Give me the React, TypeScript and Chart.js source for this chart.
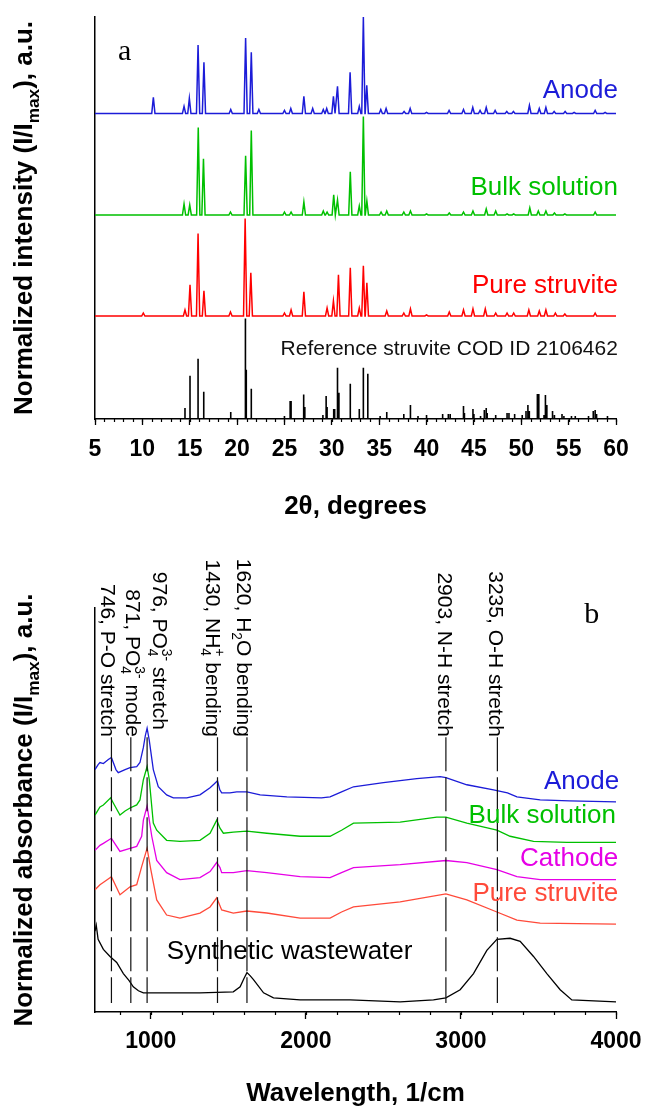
import React, { useEffect, useRef } from 'react';
import { Chart, registerables } from 'chart.js';

Chart.register(...registerables);

// ---------------- Panel a: XRD (2θ, degrees; normalized intensity) ----------------
const XRD_MIN = 5;
const XRD_MAX = 60;
const XRD_TICKS = [5, 10, 15, 20, 25, 30, 35, 40, 45, 50, 55, 60];

const ANODE_XRD_BASE = 3.04;
const ANODE_XRD_PEAKS: [number, number][] = [
  [11.16, 0.16], [14.4, 0.07], [14.96, 0.15], [15.88, 0.68], [16.5, 0.51], [19.33, 0.04],
  [20.9, 0.75], [21.5, 0.61], [22.3, 0.04], [25.0, 0.03], [25.67, 0.05], [27.05, 0.17],
  [27.98, 0.05], [29.1, 0.04], [29.46, 0.05], [30.17, 0.17], [30.6, 0.27], [31.93, 0.41],
  [32.9, 0.07], [33.33, 0.96], [33.69, 0.28], [35.17, 0.04], [35.73, 0.05], [37.63, 0.02],
  [38.27, 0.05], [40.0, 0.01], [42.38, 0.03], [43.9, 0.04], [44.88, 0.06], [45.65, 0.03],
  [46.3, 0.06], [47.24, 0.03], [48.47, 0.02], [49.17, 0.02], [50.86, 0.08], [51.9, 0.05],
  [52.6, 0.06], [53.47, 0.02], [54.63, 0.02], [55.58, 0.01], [57.8, 0.03], [58.85, 0.01],
];

const BULK_XRD_BASE = 2.03;
const BULK_XRD_PEAKS: [number, number][] = [
  [14.4, 0.11], [15.0, 0.1], [15.9, 0.87], [16.45, 0.56], [19.3, 0.03], [20.9, 0.59],
  [21.5, 0.84], [25.0, 0.03], [25.7, 0.03], [27.05, 0.13], [29.1, 0.04], [29.5, 0.03],
  [30.2, 0.2], [30.6, 0.15], [31.95, 0.43], [32.9, 0.09], [33.33, 0.98], [33.7, 0.14],
  [35.2, 0.03], [35.8, 0.04], [37.6, 0.03], [38.3, 0.04], [40.0, 0.01], [42.4, 0.02],
  [43.9, 0.03], [44.9, 0.04], [46.3, 0.06], [47.3, 0.04], [48.5, 0.01], [49.2, 0.01],
  [50.9, 0.07], [51.8, 0.04], [52.6, 0.04], [53.5, 0.02], [54.6, 0.01], [57.8, 0.03],
];

const PURE_XRD_BASE = 1.025;
const PURE_XRD_PEAKS: [number, number][] = [
  [10.1, 0.03], [14.5, 0.06], [15.03, 0.31], [15.88, 0.82], [16.5, 0.25], [19.3, 0.04],
  [20.85, 0.97], [21.45, 0.43], [25.0, 0.03], [25.7, 0.06], [27.05, 0.24], [29.5, 0.08],
  [30.17, 0.15], [30.7, 0.41], [31.95, 0.48], [32.9, 0.08], [33.33, 0.5], [33.7, 0.33],
  [35.8, 0.05], [37.6, 0.03], [38.3, 0.07], [40.0, 0.01], [42.4, 0.04], [43.9, 0.06],
  [44.9, 0.07], [46.2, 0.07], [47.3, 0.03], [48.5, 0.03], [49.2, 0.03], [50.8, 0.06],
  [51.9, 0.05], [52.6, 0.06], [53.6, 0.03], [54.6, 0.02], [57.8, 0.03],
];

// Reference struvite COD ID 2106462 stick pattern
const REF_STICKS: [number, number][] = [
  [14.5, 0.11], [15.03, 0.43], [15.88, 0.6], [16.48, 0.27], [19.33, 0.07], [20.88, 1.0],
  [20.97, 0.49], [21.5, 0.3], [25.0, 0.03], [25.6, 0.18], [25.7, 0.18], [27.03, 0.245],
  [27.15, 0.12], [29.06, 0.04], [29.4, 0.23], [29.5, 0.12], [30.2, 0.1], [30.3, 0.1],
  [30.6, 0.51], [30.75, 0.26], [31.95, 0.35], [32.9, 0.1], [33.33, 0.51], [33.8, 0.45],
  [35.1, 0.03], [35.8, 0.07], [37.6, 0.05], [38.3, 0.14], [39.1, 0.03], [40.0, 0.04],
  [41.7, 0.05], [42.3, 0.05], [42.5, 0.05], [43.9, 0.13], [44.0, 0.06], [44.9, 0.1],
  [45.0, 0.05], [45.7, 0.03], [46.1, 0.09], [46.3, 0.11], [46.4, 0.06], [47.3, 0.04],
  [48.5, 0.06], [48.7, 0.06], [49.3, 0.05], [50.1, 0.04], [50.5, 0.08], [50.7, 0.14],
  [50.85, 0.08], [51.7, 0.25], [51.85, 0.25], [52.4, 0.04], [52.55, 0.24], [52.7, 0.14],
  [53.3, 0.08], [53.5, 0.04], [54.3, 0.05], [54.5, 0.03], [55.3, 0.03], [55.7, 0.03],
  [57.1, 0.03], [57.6, 0.08], [57.8, 0.09], [57.95, 0.05], [59.1, 0.03],
];

// ---------------- Panel b: FTIR (wavenumber, normalized absorbance) ----------------
const IR_MIN = 640;
const IR_MAX = 4000;
const IR_TICKS = [1000, 2000, 3000, 4000];

const ANODE_IR: [number, number][] = [
  [640, 2.4], [660, 2.45], [672, 2.47], [694, 2.46], [726, 2.5], [746, 2.52], [758, 2.47],
  [775, 2.4], [790, 2.37], [834, 2.4], [866, 2.42], [909, 2.43], [930, 2.47], [952, 2.62],
  [965, 2.74], [976, 2.81], [990, 2.69], [1016, 2.4], [1048, 2.23], [1102, 2.15], [1145, 2.12],
  [1232, 2.12], [1317, 2.15], [1382, 2.22], [1410, 2.26], [1430, 2.29], [1445, 2.2],
  [1457, 2.17], [1510, 2.17], [1554, 2.18], [1620, 2.18], [1705, 2.15], [1877, 2.13],
  [2100, 2.12], [2156, 2.13], [2230, 2.18], [2307, 2.23], [2500, 2.27], [2715, 2.31], [2866, 2.33],
  [2903, 2.32], [3038, 2.25], [3210, 2.2], [3300, 2.17], [3361, 2.13], [3511, 2.1],
  [3700, 2.09], [4000, 2.08],
];

const BULK_IR: [number, number][] = [
  [640, 1.95], [672, 2.03], [694, 2.05], [741, 2.12], [758, 2.07], [801, 1.95], [834, 1.99],
  [866, 2.02], [909, 2.05], [930, 2.1], [952, 2.3], [976, 2.43], [990, 2.3], [1016, 1.87],
  [1038, 1.8], [1102, 1.7], [1188, 1.69], [1317, 1.7], [1382, 1.77], [1425, 1.9], [1446, 1.82],
  [1468, 1.77], [1532, 1.78], [1619, 1.79], [1748, 1.77], [1963, 1.74], [2156, 1.74],
  [2230, 1.8], [2307, 1.87], [2608, 1.88], [2844, 1.93], [2903, 1.93], [3038, 1.87],
  [3232, 1.8], [3317, 1.74], [3468, 1.69], [3683, 1.68], [4000, 1.68],
];

const CATHODE_IR: [number, number][] = [
  [640, 1.6], [672, 1.65], [694, 1.67], [746, 1.72], [801, 1.59], [866, 1.62], [909, 1.64],
  [941, 1.74], [952, 1.9], [976, 2.04], [990, 1.9], [1006, 1.74], [1038, 1.5], [1102, 1.38],
  [1188, 1.31], [1317, 1.33], [1382, 1.39], [1425, 1.48], [1446, 1.43], [1457, 1.38],
  [1532, 1.38], [1619, 1.4], [1748, 1.38], [1963, 1.34], [2156, 1.33], [2230, 1.38], [2307, 1.43],
  [2608, 1.46], [2903, 1.5], [3038, 1.48], [3232, 1.41], [3361, 1.34], [3511, 1.31], [4000, 1.31],
];

const PURE_IR: [number, number][] = [
  [640, 1.21], [672, 1.26], [700, 1.29], [746, 1.34], [801, 1.16], [866, 1.24], [909, 1.26],
  [941, 1.44], [976, 1.62], [1000, 1.41], [1038, 1.11], [1102, 0.96], [1188, 0.93],
  [1317, 0.98], [1382, 1.04], [1425, 1.13], [1457, 1.01], [1532, 0.98], [1619, 1.0],
  [1748, 0.98], [1963, 0.93], [2156, 0.93], [2230, 0.99], [2307, 1.04], [2608, 1.09], [2903, 1.17],
  [3038, 1.11], [3232, 0.99], [3361, 0.91], [3511, 0.88], [4000, 0.87],
];

const WASTEWATER_IR: [number, number][] = [
  [640, 0.8], [648, 0.86], [660, 0.72], [694, 0.62], [737, 0.55], [780, 0.49], [823, 0.38],
  [860, 0.31], [887, 0.25], [920, 0.21], [952, 0.19], [976, 0.19], [1102, 0.19], [1317, 0.19],
  [1532, 0.2], [1576, 0.25], [1600, 0.33], [1620, 0.39], [1640, 0.36], [1662, 0.32],
  [1727, 0.19], [1791, 0.14], [1963, 0.12], [2156, 0.12], [2285, 0.12], [2608, 0.1],
  [2823, 0.12], [2903, 0.14], [2995, 0.22], [3081, 0.38], [3167, 0.61], [3232, 0.72],
  [3317, 0.73], [3382, 0.7], [3468, 0.55], [3554, 0.38], [3640, 0.22], [3715, 0.12], [4000, 0.1],
];

// Band assignments (wavenumbers) and their labels
const BAND_WAVENUMBERS = [746, 871, 976, 1430, 1620, 2903, 3235];
type Seg = { t: string; s?: 'sub' | 'sup'; stack?: boolean };
const BAND_LABELS: Seg[][] = [
  [{ t: '746, P-O stretch' }],
  [{ t: '871, PO' }, { t: '4', s: 'sub' }, { t: '3-', s: 'sup', stack: true }, { t: ' mode' }],
  [{ t: '976, PO' }, { t: '4', s: 'sub' }, { t: '3-', s: 'sup', stack: true }, { t: ' stretch' }],
  [{ t: '1430, NH' }, { t: '4', s: 'sub' }, { t: '+', s: 'sup', stack: true }, { t: ' bending' }],
  [{ t: '1620, H' }, { t: '2', s: 'sub' }, { t: 'O bending' }],
  [{ t: '2903, N-H stretch' }],
  [{ t: '3235, O-H stretch' }],
];

// ---------------- styles ----------------
const SANS = "'Liberation Sans', Arial, Helvetica, sans-serif";
const SERIF = "'Liberation Serif', 'Times New Roman', serif";
const BLUE = '#1c1cd8';
const GREEN = '#00c000';
const RED = '#ff0000';
const MAGENTA = '#e600e6';
const SALMON = '#ff4a3a';
const BLACK = '#000000';

const PEAK_HALF_WIDTH = 0.17;
const BAND_LINE_TOP = 2.72;
const BAND_LINE_BOTTOM = 0.09;
const BAND_LABEL_DX = [-4.7, 0.9, 11.7, -5.5, -3.9, -2, -2.5];
const BAND_LABEL_END = [2.723, 2.723, 2.792, 2.723, 2.723, 2.723, 2.723];

// ---------------- helpers ----------------
function xrdTrace(base: number, peaks: [number, number][]) {
  const pts: { x: number; y: number }[] = [{ x: XRD_MIN, y: base }];
  const sorted = [...peaks].sort((a, b) => a[0] - b[0]);
  for (const [p, h] of sorted) {
    pts.push({ x: p - PEAK_HALF_WIDTH, y: base }, { x: p, y: base + h }, { x: p + PEAK_HALF_WIDTH, y: base });
  }
  pts.push({ x: XRD_MAX, y: base });
  return pts;
}

function stickTrace(sticks: [number, number][]) {
  const pts: { x: number; y: number | null }[] = [];
  for (const [p, h] of sticks) {
    pts.push({ x: p, y: 0 }, { x: p, y: h }, { x: p, y: null });
  }
  return pts;
}

function pairs(arr: [number, number][]) {
  return arr.map(([x, y]) => ({ x, y }));
}

function layoutRich(ctx: CanvasRenderingContext2D, segs: Seg[], size: number, weight: string) {
  let x = 0;
  let prevStart = 0;
  const items: { seg: Seg; fs: number; start: number }[] = [];
  for (const seg of segs) {
    const fs = seg.s ? size * 0.66 : size;
    ctx.font = `${weight} ${fs}px ${SANS}`;
    const w = ctx.measureText(seg.t).width;
    let start: number;
    if (seg.stack) {
      start = prevStart;
      x = Math.max(x, start + w);
    } else {
      start = x;
      x += w;
    }
    items.push({ seg, fs, start });
    prevStart = start;
  }
  return { items, width: x };
}

function drawRich(
  ctx: CanvasRenderingContext2D, segs: Seg[], x: number, y: number, angle: number,
  align: 'left' | 'right' | 'center', size: number, weight: string, color: string,
) {
  ctx.save();
  ctx.translate(x, y);
  ctx.rotate(angle);
  const { items, width } = layoutRich(ctx, segs, size, weight);
  const x0 = align === 'right' ? -width : align === 'center' ? -width / 2 : 0;
  ctx.fillStyle = color;
  ctx.textBaseline = 'middle';
  ctx.textAlign = 'left';
  for (const it of items) {
    ctx.font = `${weight} ${it.fs}px ${SANS}`;
    const dy = it.seg.s === 'sub' ? size * 0.34 : it.seg.s === 'sup' ? -size * 0.32 : 0;
    ctx.fillText(it.seg.t, x0 + it.start, dy);
  }
  ctx.restore();
}

type TextLabel = { text: string; x: number; y: number; color: string; size: number; align: CanvasTextAlign; font?: string; baseline?: CanvasTextBaseline };

function labelsPlugin(labels: TextLabel[], yTitle: Seg[], minorStep: number, minorLen: number) {
  return {
    id: 'customText',
    afterDraw(chart: any) {
      const ctx: CanvasRenderingContext2D = chart.ctx;
      const xs = chart.scales.x;
      const ys = chart.scales.y;
      const area = chart.chartArea;
      // minor ticks
      ctx.save();
      ctx.strokeStyle = BLACK;
      ctx.lineWidth = 1.2;
      const start = Math.ceil(xs.min / minorStep) * minorStep;
      for (let v = start; v <= xs.max + 1e-9; v += minorStep) {
        const px = Math.round(xs.getPixelForValue(v)) + 0.5;
        ctx.beginPath();
        ctx.moveTo(px, area.bottom);
        ctx.lineTo(px, area.bottom + minorLen);
        ctx.stroke();
      }
      ctx.restore();
      // series labels
      for (const l of labels) {
        ctx.save();
        ctx.font = `${l.size}px ${l.font ?? SANS}`;
        ctx.fillStyle = l.color;
        ctx.textAlign = l.align;
        ctx.textBaseline = l.baseline ?? 'middle';
        ctx.fillText(l.text, xs.getPixelForValue(l.x), ys.getPixelForValue(l.y));
        ctx.restore();
      }
      // y-axis title
      drawRich(ctx, yTitle, area.left - 70, (area.top + area.bottom) / 2, -Math.PI / 2, 'center', 26, 'bold', BLACK);
    },
  };
}

const bandPlugin = {
  id: 'bandLabels',
  afterDraw(chart: any) {
    const ctx: CanvasRenderingContext2D = chart.ctx;
    const xs = chart.scales.x;
    const ys = chart.scales.y;
    BAND_WAVENUMBERS.forEach((wn, i) => {
      const px = xs.getPixelForValue(wn) + BAND_LABEL_DX[i];
      const py = ys.getPixelForValue(BAND_LABEL_END[i]);
      drawRich(ctx, BAND_LABELS[i], px, py, Math.PI / 2, 'right', 21, 'normal', BLACK);
    });
  },
};

function xAxis(min: number, max: number, ticks: number[], title: string, height: number, tickPad: number, titlePad: number, tickLen: number) {
  return {
    type: 'linear' as const,
    min,
    max,
    position: 'bottom' as const,
    afterBuildTicks: (s: any) => {
      s.ticks = ticks.map((v) => ({ value: v }));
    },
    afterFit: (s: any) => {
      s.height = height;
      s.paddingLeft = 0;
      s.paddingRight = 0;
    },
    ticks: {
      autoSkip: false,
      maxRotation: 0,
      color: BLACK,
      padding: tickPad,
      font: { family: SANS, size: 23, weight: 'bold' as const },
      callback: (v: any) => String(v),
    },
    grid: { display: true, drawOnChartArea: false, drawTicks: true, tickLength: tickLen, tickColor: BLACK, tickWidth: 1.3, color: BLACK },
    border: { display: true, color: BLACK, width: 1.5 },
    title: {
      display: true,
      text: title,
      color: BLACK,
      font: { family: SANS, size: 26, weight: 'bold' as const },
      padding: { top: 0, bottom: titlePad },
    },
  };
}

function yAxis(max: number) {
  return {
    type: 'linear' as const,
    min: 0,
    max,
    ticks: { display: false },
    grid: { display: false, drawTicks: false },
    border: { display: true, color: BLACK, width: 1.5 },
    afterFit: (s: any) => {
      s.width = 0;
      s.paddingTop = 0;
      s.paddingBottom = 0;
    },
  };
}

const lineDs = (data: any[], color: string, width = 1.5, extra: any = {}) => ({
  data,
  borderColor: color,
  backgroundColor: color,
  borderWidth: width,
  pointRadius: 0,
  tension: 0,
  fill: false,
  spanGaps: false,
  ...extra,
});

function xrdConfig(): any {
  const labels: TextLabel[] = [
    { text: 'a', x: 7.43, y: 3.572, color: BLACK, size: 30, align: 'left', font: SERIF, baseline: 'alphabetic' },
    { text: 'Anode', x: 60.2, y: 3.266, color: BLUE, size: 26, align: 'right' },
    { text: 'Bulk solution', x: 60.2, y: 2.303, color: GREEN, size: 26, align: 'right' },
    { text: 'Pure struvite', x: 60.2, y: 1.321, color: RED, size: 26, align: 'right' },
    { text: 'Reference struvite COD ID 2106462', x: 60.2, y: 0.695, color: '#111', size: 21, align: 'right' },
  ];
  const yTitle: Seg[] = [{ t: 'Normalized intensity (I/I' }, { t: 'max', s: 'sub' }, { t: '), a.u.' }];
  return {
    type: 'line',
    data: {
      datasets: [
        lineDs(stickTrace(REF_STICKS), BLACK, 1.6),
        lineDs(xrdTrace(PURE_XRD_BASE, PURE_XRD_PEAKS), RED),
        lineDs(xrdTrace(BULK_XRD_BASE, BULK_XRD_PEAKS), GREEN),
        lineDs(xrdTrace(ANODE_XRD_BASE, ANODE_XRD_PEAKS), BLUE),
      ],
    },
    options: {
      animation: false,
      responsive: false,
      maintainAspectRatio: false,
      events: [],
      layout: { padding: { left: 95, top: 17, right: 29, bottom: 0 } },
      plugins: { legend: { display: false }, tooltip: { enabled: false }, title: { display: false } },
      scales: {
        x: xAxis(XRD_MIN, XRD_MAX, XRD_TICKS, '2θ, degrees', 121, 11, 17.5, 6),
        y: yAxis(4),
      },
    },
    plugins: [labelsPlugin(labels, yTitle, 1, 3)],
  };
}

function ftirConfig(): any {
  const labels: TextLabel[] = [
    { text: 'b', x: 3795, y: 3.848, color: BLACK, size: 30, align: 'left', font: SERIF, baseline: 'alphabetic' },
    { text: 'Anode', x: 4020, y: 2.28, color: BLUE, size: 26, align: 'right' },
    { text: 'Bulk solution', x: 4000, y: 1.94, color: GREEN, size: 26, align: 'right' },
    { text: 'Cathode', x: 4015, y: 1.513, color: MAGENTA, size: 26, align: 'right' },
    { text: 'Pure struvite', x: 4015, y: 1.166, color: SALMON, size: 26, align: 'right' },
    { text: 'Synthetic wastewater', x: 1103, y: 0.597, color: BLACK, size: 26, align: 'left' },
  ];
  const yTitle: Seg[] = [{ t: 'Normalized absorbance (I/I' }, { t: 'max', s: 'sub' }, { t: '), a.u.' }];
  const bandDatasets = BAND_WAVENUMBERS.map((wn) =>
    lineDs([{ x: wn, y: BAND_LINE_TOP }, { x: wn, y: BAND_LINE_BOTTOM }], '#111', 1.2, { borderDash: [34, 6] }),
  );
  return {
    type: 'line',
    data: {
      datasets: [
        ...bandDatasets,
        lineDs(pairs(WASTEWATER_IR), BLACK, 1.3),
        lineDs(pairs(PURE_IR), SALMON, 1.3),
        lineDs(pairs(CATHODE_IR), MAGENTA, 1.3),
        lineDs(pairs(BULK_IR), GREEN, 1.3),
        lineDs(pairs(ANODE_IR), BLUE, 1.3),
      ],
    },
    options: {
      animation: false,
      responsive: false,
      maintainAspectRatio: false,
      events: [],
      layout: { padding: { left: 95, top: 68, right: 29, bottom: 0 } },
      plugins: { legend: { display: false }, tooltip: { enabled: false }, title: { display: false } },
      scales: {
        x: xAxis(IR_MIN, IR_MAX, IR_TICKS, 'Wavelength, 1/cm', 98, 9, 0.5, 7),
        y: yAxis(4),
      },
    },
    plugins: [labelsPlugin(labels, yTitle, 200, 3), bandPlugin],
  };
}

export default function App() {
  const ref1 = useRef<HTMLCanvasElement>(null);
  const ref2 = useRef<HTMLCanvasElement>(null);
  useEffect(() => {
    const c1 = new Chart(ref1.current as HTMLCanvasElement, xrdConfig());
    const c2 = new Chart(ref2.current as HTMLCanvasElement, ftirConfig());
    return () => {
      c1.destroy();
      c2.destroy();
    };
  }, []);
  return (
    <div style={{ position: 'absolute', left: 0, top: 0, width: 645, height: 1110, background: '#fff' }}>
      <canvas ref={ref1} width={645} height={540} style={{ position: 'absolute', left: 0, top: 0, width: 645, height: 540 }} />
      <canvas ref={ref2} width={645} height={570} style={{ position: 'absolute', left: 0, top: 540, width: 645, height: 570 }} />
    </div>
  );
}
